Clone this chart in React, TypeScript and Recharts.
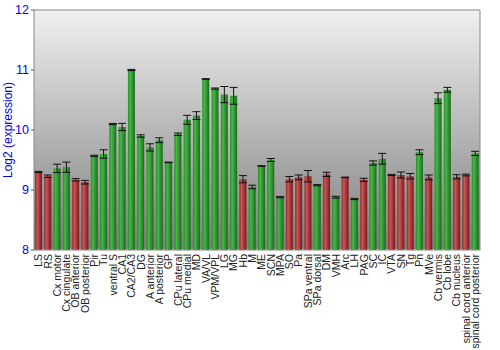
import React from 'react';
import { BarChart, Bar, XAxis, YAxis, CartesianGrid, Cell, ErrorBar, ReferenceLine } from 'recharts';

const regions = [
  'LS', 'RS', 'Cx motor', 'Cx cingulate', 'OB anterior', 'OB posterior', 'Pir', 'Tu',
  'ventral S', 'CA1', 'CA2/CA3', 'DG', 'A anterior', 'A posterior', 'GP', 'CPu lateral',
  'CPu medial', 'MD', 'VA/VL', 'VPM/VPL', 'LG', 'MG', 'Hb', 'M',
  'ME', 'SCN', 'MPA', 'SO', 'Pa', 'SPa ventral', 'SPa dorsal', 'DM',
  'VMH', 'Arc', 'LH', 'PAG', 'SC', 'IC', 'VTA', 'SN',
  'Tg', 'Pn', 'MVe', 'Cb vermis', 'Cb lobe', 'Cb nucleus', 'spinal cord anterior', 'spinal cord posterior',
];

const expression = [
  9.30, 9.23, 9.36, 9.38, 9.17, 9.13, 9.57, 9.60,
  10.10, 10.05, 11.00, 9.90, 9.71, 9.83, 9.46, 9.93,
  10.17, 10.24, 10.85, 10.69, 10.59, 10.57, 9.18, 9.05,
  9.40, 9.50, 8.88, 9.18, 9.21, 9.23, 9.08, 9.26,
  8.88, 9.21, 8.85, 9.17, 9.45, 9.52, 9.25, 9.25,
  9.23, 9.63, 9.21, 10.53, 10.67, 9.22, 9.25, 9.61,
];

const stdErr = [
  0.01, 0.02, 0.07, 0.085, 0.02, 0.03, 0.01, 0.07,
  0.01, 0.06, 0.01, 0.02, 0.06, 0.04, 0.005, 0.02,
  0.075, 0.065, 0.005, 0.01, 0.135, 0.14, 0.06, 0.03,
  0.005, 0.025, 0.01, 0.045, 0.04, 0.095, 0.01, 0.035,
  0.015, 0.005, 0.01, 0.025, 0.035, 0.09, 0.01, 0.05,
  0.045, 0.04, 0.04, 0.09, 0.04, 0.035, 0.015, 0.035,
];

// true = above median (green), false = below (red)
const enriched = [
  false, false, true, true, false, false, true, true,
  true, true, true, true, true, true, true, true,
  true, true, true, true, true, true, false, true,
  true, true, true, false, false, false, true, false,
  true, false, true, false, true, true, false, false,
  false, true, false, true, true, false, false, true,
];

const yTicks = [8, 9, 10, 11, 12];

const data = regions.map((name, i) => ({
  name,
  value: expression[i],
  err: stdErr[i],
  high: enriched[i],
}));

const XTick = (props: any) => {
  const { x, y, payload } = props;
  const ty = y - 4;
  return (
    <text
      x={x}
      y={ty}
      transform={`rotate(-90, ${x}, ${ty})`}
      textAnchor="end"
      dy="0.35em"
      fontSize={10.5}
      fill="#222"
    >
      {payload.value}
    </text>
  );
};

export default function App() {
  return (
    <div style={{ position: 'absolute', left: 0, top: 0, fontFamily: '"Liberation Sans", Arial, sans-serif' }}>
      <BarChart
        width={500}
        height={350}
        data={data}
        margin={{ top: 10, right: 0, left: 0, bottom: 0 }}
        barCategoryGap={1}
      >
        <defs>
          <linearGradient id="bgFill" x1="0" y1="0" x2="0" y2="1">
            <stop offset="0%" stopColor="#f0f0f0" />
            <stop offset="100%" stopColor="#7e7e7e" />
          </linearGradient>
          <linearGradient id="redBar" x1="0" y1="0" x2="1" y2="0">
            <stop offset="0%" stopColor="#8e2c2c" />
            <stop offset="30%" stopColor="#cc5454" />
            <stop offset="100%" stopColor="#761a1a" />
          </linearGradient>
          <linearGradient id="greenBar" x1="0" y1="0" x2="1" y2="0">
            <stop offset="0%" stopColor="#2a8a2a" />
            <stop offset="30%" stopColor="#46b846" />
            <stop offset="100%" stopColor="#1a6a1a" />
          </linearGradient>
        </defs>
        <CartesianGrid vertical={false} fill="url(#bgFill)" stroke="#f4f4f4" strokeWidth={1.5} />
        <XAxis
          dataKey="name"
          interval={0}
          height={100}
          tickLine={false}
          axisLine={{ stroke: '#888' }}
          tick={<XTick />}
        />
        <YAxis
          yAxisId="left"
          domain={[8, 12]}
          ticks={yTicks}
          width={34}
          tickSize={3}
          axisLine={{ stroke: '#888' }}
          tickLine={{ stroke: '#555' }}
          tick={{ fill: '#0000ff', fontSize: 12.5 }}
          label={{ value: 'Log2 (expression)', angle: -90, position: 'insideLeft', dx: 3, fill: '#0000ff', fontSize: 12, style: { textAnchor: 'middle' } }}
        />
        <YAxis
          yAxisId="right"
          orientation="right"
          domain={[8, 12]}
          ticks={yTicks}
          width={20}
          tickSize={3}
          axisLine={{ stroke: '#888' }}
          tickLine={{ stroke: '#555' }}
          tick={{ fill: '#0000ff', fontSize: 12.5 }}
        />
        <ReferenceLine yAxisId="left" y={12} stroke="#888" />
        <Bar yAxisId="left" dataKey="value" isAnimationActive={false}>
          {data.map((d, i) => (
            <Cell key={i} fill={d.high ? 'url(#greenBar)' : 'url(#redBar)'} />
          ))}
          <ErrorBar dataKey="err" width={4} stroke="#111" strokeWidth={1} isAnimationActive={false} />
        </Bar>
      </BarChart>
    </div>
  );
}
